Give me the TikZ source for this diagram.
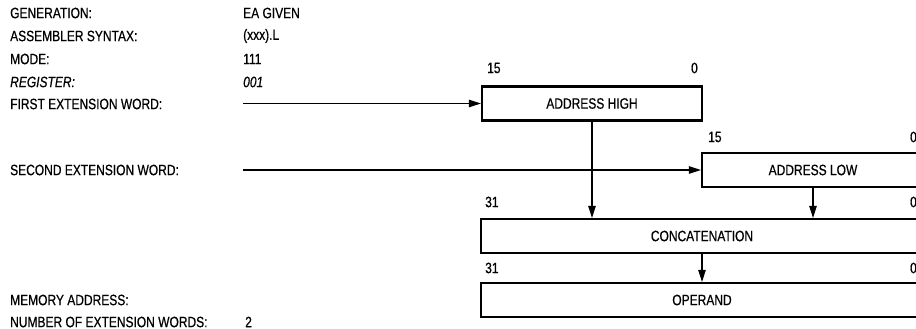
\documentclass[tikz,border=0pt]{standalone}
\usepackage{fontspec}
\setmainfont[FakeStretch=0.8, FakeBold=0.6]{Liberation Sans}
\usetikzlibrary{arrows.meta}
\tikzset{
    fieldbox/.style={draw, line width=2.2pt, minimum width=#1,
        minimum height=34pt, inner sep=0pt},
    rowlabel/.style={anchor=west, inner sep=0pt},
    bitno/.style={inner sep=0pt, anchor=#1},
    feed/.style={line width=1.2pt, -{Triangle[length=12pt, width=7.5pt]}},
}

\begin{document}
\begin{tikzpicture}[x=1pt, y=-1pt, font=\fontsize{15}{17}\selectfont]

    \clip (0,0) rectangle (916,329);

    % ── Left column: field names ───────────────────────────────────────────
    \node[rowlabel] (gen)   at (10,13)  {GENERATION:};
    \node[rowlabel] (syn)   at (10,36)  {ASSEMBLER SYNTAX:};
    \node[rowlabel] (mode)  at (10,59)  {MODE:};
    \node[rowlabel] (reg)   at (10,82)  {\itshape REGISTER:};
    \node[rowlabel] (ext1)  at (10,104) {FIRST EXTENSION WORD:};
    \node[rowlabel] (ext2)  at (10,170) {SECOND EXTENSION WORD:};
    \node[rowlabel] (mem)   at (10,300) {MEMORY ADDRESS:};
    \node[rowlabel] (nwords) at (10,322) {NUMBER OF EXTENSION WORDS:};

    % ── Values ─────────────────────────────────────────────────────────────
    \node[rowlabel] (genval)  at (243,13) {EA GIVEN};
    \node[rowlabel] (synval)  at (243,36) {(xxx).L};
    \node[rowlabel] (modeval) at (243,59) {111};
    \node[rowlabel] (regval)  at (243,82) {\itshape 001};
    \node[rowlabel] (nval)    at (245,322) {2};

    % ── Extension words ────────────────────────────────────────────────────
    \node[fieldbox=220pt] (high) at (592,103.5) {ADDRESS HIGH};
    \node[bitno=west] (highmsb) at (487,68) {15};
    \node[bitno=east] (highlsb) at (698,68) {0};

    \node[fieldbox=222pt] (low) at (813,170) {ADDRESS LOW};
    \node[bitno=west] (lowmsb) at (708,137) {15};
    \node[bitno=east] (lowlsb) at (917,137) {0};

    % ── Concatenation and operand ──────────────────────────────────────────
    \node[fieldbox=442pt] (concat) at (702,236) {CONCATENATION};
    \node[bitno=west] (catmsb) at (485,202) {31};
    \node[bitno=east] (catlsb) at (917,202) {0};

    \node[fieldbox=442pt] (operand) at (702,300) {OPERAND};
    \node[bitno=west] (opmsb) at (485,268) {31};
    \node[bitno=east] (oplsb) at (917,268) {0};

    % ── Connectors ─────────────────────────────────────────────────────────
    \coordinate (ext1in) at (243,103.5);
    \coordinate (ext2in) at (243,170);
    \draw[feed] (ext1in) -- (high.west);
    \draw[feed] (ext2in) -- (low.west);
    \draw[feed] (high.south) -- (high.south |- concat.north);
    \draw[feed] (low.south) -- (low.south |- concat.north);
    \draw[feed] (concat.south) -- (operand.north);

\end{tikzpicture}
\end{document}
